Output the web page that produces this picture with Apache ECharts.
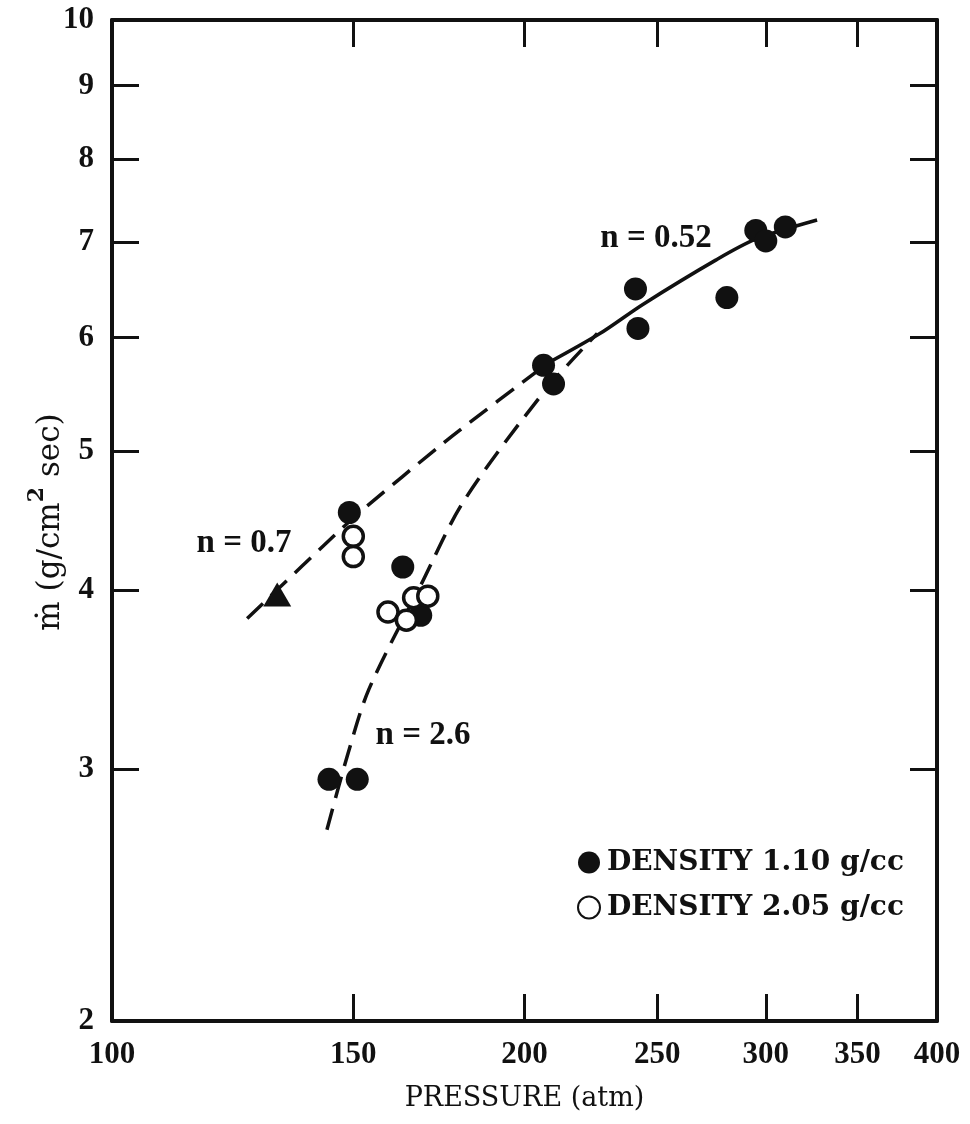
<!DOCTYPE html>
<html>
<head>
<meta charset="utf-8">
<script src="https://cdn.jsdelivr.net/npm/echarts@6/dist/echarts.min.js"></script>
<style>
  html, body { margin: 0; padding: 0; background: #ffffff; }
  #chart { width: 970px; height: 1124px; }
</style>
</head>
<body>
<div id="chart"></div>
<script>
// Mass burning rate versus pressure on log-log axes.

// Axis ticks and labels
const xTickValues = [150, 200, 250, 300, 350];
const xLabelValues = [100, 150, 200, 250, 300, 350, 400];
const yTickValues = [3, 4, 5, 6, 7, 8, 9];
const yLabelValues = [2, 3, 4, 5, 6, 7, 8, 9, 10];

// Measured points: [pressure (atm), mass rate (g/cm^2 sec)]
const density110 = [
  [149, 4.53], [163, 4.15], [168, 3.84], [144, 2.95], [151, 2.95],
  [206.5, 5.74], [210, 5.57], [241, 6.49], [242, 6.09], [281, 6.40],
  [295, 7.13], [300, 7.01], [310, 7.17]
];
const density205 = [
  [150, 4.36], [150, 4.22], [159, 3.86], [164, 3.81], [166, 3.95], [170, 3.96]
];
const trianglePoint = [[132, 3.97]];

// Faired curves
const curveN052 = [[208, 5.76], [227, 6.04], [244, 6.33], [276, 6.80], [295, 7.03], [327, 7.25]];
const curveN07 = [[125.5, 3.82], [150, 4.49], [177, 5.12], [208, 5.76]];
const curveN26 = [[143.5, 2.72], [148.6, 3.07], [154, 3.41], [168, 4.03], [180.5, 4.61], [207, 5.51], [226, 6.04]];

const seriesNames = ['DENSITY 1.10 g/cc', 'DENSITY 2.05 g/cc'];

const INK = '#111111';
const SERIF = "'Liberation Serif', 'DejaVu Serif', serif";
const WIDE_SERIF = "'DejaVu Serif', 'Liberation Serif', serif";

const frameLine = { show: true, onZero: false, lineStyle: { color: INK, width: 4 } };
const tickStyle = { color: INK, width: 3 };

function xAxisDef(position, withLabels) {
  return {
    type: 'log', logBase: 10, min: 100, max: 400, position: position,
    axisLine: frameLine,
    axisTick: { show: true, inside: true, length: 27, lineStyle: tickStyle, customValues: xTickValues },
    minorTick: { show: false },
    splitLine: { show: false },
    axisLabel: withLabels ? {
      show: true, customValues: xLabelValues, margin: 18,
      fontFamily: SERIF, fontWeight: 'bold', fontSize: 31, color: INK
    } : { show: false },
    name: withLabels ? 'PRESSURE (atm)' : '',
    nameLocation: 'middle', nameGap: 64,
    nameTextStyle: { fontFamily: WIDE_SERIF, fontSize: 27, color: INK }
  };
}

function yAxisDef(position, withLabels) {
  return {
    type: 'log', logBase: 10, min: 2, max: 10, position: position,
    axisLine: frameLine,
    axisTick: { show: true, inside: true, length: 27, lineStyle: tickStyle, customValues: yTickValues },
    minorTick: { show: false },
    splitLine: { show: false },
    axisLabel: withLabels ? {
      show: true, customValues: yLabelValues, margin: 18,
      fontFamily: SERIF, fontWeight: 'bold', fontSize: 31, color: INK
    } : { show: false }
  };
}

const chart = echarts.init(document.getElementById('chart'), null, { renderer: 'canvas' });

chart.setOption({
  backgroundColor: '#ffffff',
  animation: false,
  grid: { left: 112, right: 33, top: 20, bottom: 103, outerBoundsMode: 'none' },
  xAxis: [xAxisDef('bottom', true), xAxisDef('top', false)],
  yAxis: [yAxisDef('left', true), yAxisDef('right', false)],
  legend: {
    data: seriesNames,
    orient: 'vertical',
    left: 572, top: 841,
    itemWidth: 22, itemHeight: 22, itemGap: 12,
    textStyle: { fontFamily: WIDE_SERIF, fontWeight: 'bold', fontSize: 28, color: INK, lineHeight: 33, padding: [0, 0, 0, 2] },
    selectedMode: false
  },
  graphic: [
    { type: 'text', x: 656, y: 238, style: { text: 'n = 0.52', font: "bold 33px 'Liberation Serif'", fill: INK, align: 'center', verticalAlign: 'middle' } },
    { type: 'text', x: 244, y: 543, style: { text: 'n = 0.7', font: "bold 33px 'Liberation Serif'", fill: INK, align: 'center', verticalAlign: 'middle' } },
    { type: 'text', x: 423, y: 735, style: { text: 'n = 2.6', font: "bold 33px 'Liberation Serif'", fill: INK, align: 'center', verticalAlign: 'middle' } },
    {
      type: 'text', x: 46, y: 522, rotation: Math.PI / 2,
      style: {
        text: '{t|ṁ (g/cm}{s|2}{t| sec)}',
        align: 'center', verticalAlign: 'middle', fill: INK,
        rich: {
          t: { fontFamily: WIDE_SERIF, fontSize: 31, fill: INK, lineHeight: 40, verticalAlign: 'bottom' },
          s: { fontFamily: WIDE_SERIF, fontWeight: 'bold', fontSize: 22, fill: INK, lineHeight: 22, verticalAlign: 'top' }
        }
      }
    }
  ],
  series: [
    {
      type: 'line', name: 'n = 0.52', data: curveN052, smooth: 0.3,
      showSymbol: false, symbol: 'none',
      lineStyle: { color: INK, width: 3.5, type: 'solid' }, z: 2, silent: true
    },
    {
      type: 'line', name: 'n = 0.7', data: curveN07, smooth: 0.2,
      showSymbol: false, symbol: 'none',
      lineStyle: { color: INK, width: 3.5, type: [22, 11] }, z: 2, silent: true
    },
    {
      type: 'line', name: 'n = 2.6', data: curveN26, smooth: 0.3,
      showSymbol: false, symbol: 'none',
      lineStyle: { color: INK, width: 3.5, type: [22, 11] }, z: 2, silent: true
    },
    {
      type: 'scatter', name: seriesNames[0], data: density110,
      symbol: 'circle', symbolSize: 23,
      itemStyle: { color: INK, borderColor: INK, borderWidth: 0, opacity: 1 }, z: 4
    },
    {
      type: 'scatter', name: seriesNames[1], data: density205,
      symbol: 'circle', symbolSize: 20,
      itemStyle: { color: '#ffffff', borderColor: INK, borderWidth: 3.5, opacity: 1 }, z: 5
    },
    {
      type: 'scatter', name: 'triangle', data: trianglePoint,
      symbol: 'triangle', symbolSize: [28, 24],
      itemStyle: { color: INK, opacity: 1 }, z: 4
    }
  ]
});
</script>
</body>
</html>
